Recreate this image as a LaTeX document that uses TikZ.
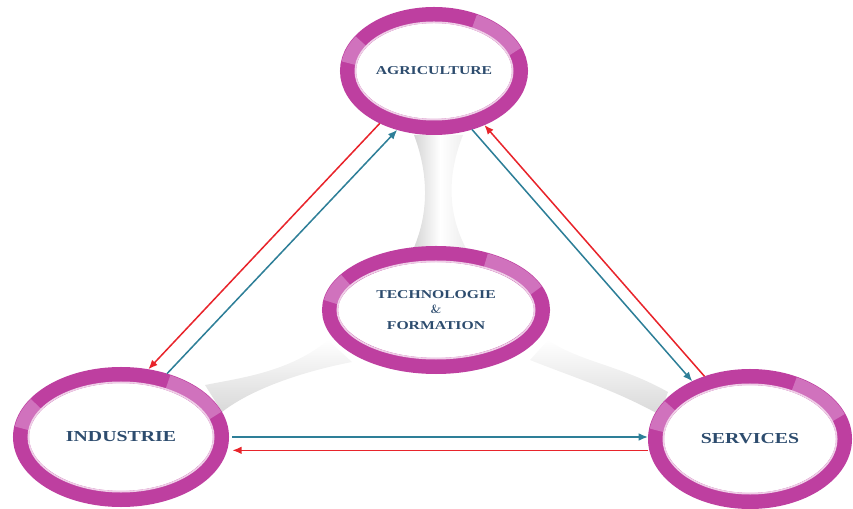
\documentclass[tikz,border=0pt]{standalone}
\usepackage{fontspec}
\usepackage{xcolor}
\usetikzlibrary{arrows.meta, calc, positioning, shapes.geometric, backgrounds}
\newfontfamily\polefont{Liberation Serif}[FakeStretch=1.3]
\definecolor{ringpink}{HTML}{BE3FA0}
\definecolor{ringlight}{HTML}{D47CC3}
\definecolor{labelblue}{HTML}{2D4C6E}
\definecolor{arrowblue}{HTML}{2E7F98}
\definecolor{arrowred}{HTML}{E8242B}

\begin{document}
\begin{tikzpicture}[
    x=0.03cm, y=0.03cm,
    pole/.style ={ellipse, draw=ringpink, fill=white, line width=4.8mm,
                  align=center, inner sep=0pt, text=labelblue,
                  font=\polefont\bfseries\fontsize{10.3}{13.6}\selectfont},
    bigpole/.style={pole, font=\polefont\bfseries\fontsize{13}{15}\selectfont},
    gloss/.style={ringlight, line width=4.4mm, opacity=0.85},
    rim/.style  ={ringpink!25, line width=0.5mm},
    neck/.style ={draw=none},
    blueflow/.style={-{Latex[length=2.8mm,width=2.3mm]}, line width=1.3pt, arrowblue},
    redflow/.style ={-{Latex[length=2.8mm,width=2.3mm]}, line width=1.3pt, arrowred},
]
\useasboundingbox (0,0) rectangle (853,508);

% --- the four poles ---
\node[pole, minimum width=5.16cm, minimum height=3.36cm] (agri) at (434,437) {AGRICULTURE};
\node[pole, minimum width=6.36cm, minimum height=3.36cm] (tech) at (436,198)
     {TECHNOLOGIE\\{\normalfont\bfseries\&}\\FORMATION};
\node[bigpole, minimum width=6.0cm, minimum height=3.72cm] (ind) at (121,71) {INDUSTRIE};
\node[bigpole, minimum width=5.64cm, minimum height=3.72cm] (ser) at (750,69) {SERVICES};

% glossy bits and soft inner rim on the rings
\foreach \n/\rx/\ry in {agri/2.58/1.68, tech/3.18/1.68, ind/3.0/1.86, ser/2.82/1.86} {
  \draw[gloss] ([shift={(20:\rx cm and \ry cm)}]\n.center)
       arc[start angle=20, end angle=62, x radius=\rx cm, y radius=\ry cm];
  \draw[gloss] ([shift={(148:\rx cm and \ry cm)}]\n.center)
       arc[start angle=148, end angle=172, x radius=\rx cm, y radius=\ry cm];
  \draw[rim] (\n.center) ellipse[x radius=\rx cm - 2.2mm, y radius=\ry cm - 2.2mm];
}

% --- grey necks joining the centre to the poles ---
\begin{scope}[on background layer]
\shade[neck, left color=gray!35, right color=gray!15, middle color=white]
  (414,373) .. controls (429,333) and (429,293) .. (412,256)
  -- (468,256) .. controls (447,293) and (447,333) .. (463,373) -- cycle;
\shade[neck, top color=white, bottom color=gray!30]
  (205,123) .. controls (240,130) and (290,136) .. (328,168)
  -- (352,146) .. controls (300,136) and (250,118) .. (222,96) -- cycle;
\shade[neck, top color=white, bottom color=gray!30]
  (548,168) .. controls (580,146) and (620,143) .. (668,116)
  -- (660,93) .. controls (615,118) and (575,130) .. (530,148) -- cycle;
\end{scope}

% --- exchanges between the poles ---
\draw[redflow]  (agri.224) -- (ind.68);
\draw[blueflow] (ind.54)   -- (agri.238);
\draw[blueflow] (agri.303) -- (ser.135);
\draw[redflow]  (ser.126)  -- (agri.313);
\draw[blueflow] ([xshift=1mm]ind.east) -- (ind.east -| ser.west);
\draw[redflow]  ([yshift=-3.4mm]ser.west) -- ([yshift=-3.4mm,xshift=1mm]ser.west -| ind.east);
\end{tikzpicture}
\end{document}
